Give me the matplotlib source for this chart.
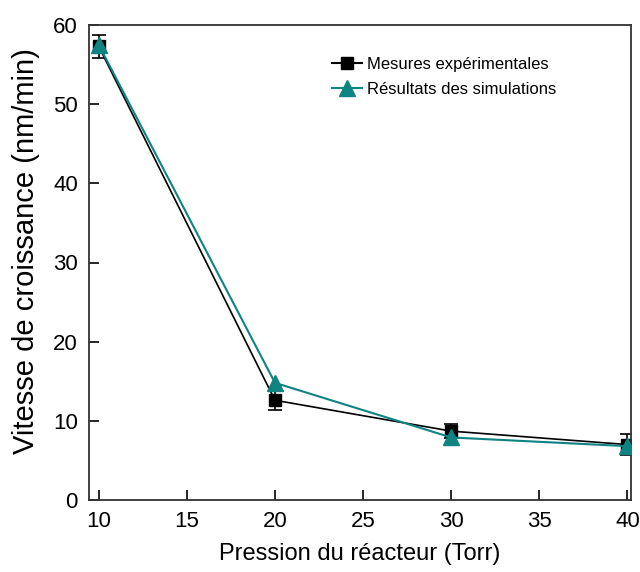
import matplotlib.pyplot as plt
from matplotlib.lines import Line2D
import numpy as np

plt.rcParams['font.family'] = ['Liberation Sans', 'DejaVu Sans']

# données
pression = [10, 20, 30, 40]
vitesse_exp = [57.3, 12.6, 8.7, 7.0]
erreur_exp = [1.5, 1.2, 0.9, 1.3]
vitesse_sim = [57.5, 14.8, 7.9, 6.8]

teal = '#0f8282'

fig = plt.figure(figsize=(6.4, 5.72), dpi=100)
ax = fig.add_axes([89/640, 1 - 500/572, (631-89)/640, (500-25)/572])

ax.errorbar(pression, vitesse_exp, yerr=erreur_exp, color='black', lw=1.2,
            marker='s', ms=8, capsize=5, capthick=1.2, elinewidth=1.2, zorder=2)
ax.plot(pression, vitesse_sim, color=teal, lw=1.5, marker='^', ms=11, zorder=3)

ax.set_xlim(9.45, 40.2)
ax.set_ylim(0, 60)
ax.set_xticks([10, 15, 20, 25, 30, 35, 40])
ax.set_yticks([0, 10, 20, 30, 40, 50, 60])
ax.tick_params(direction='in', length=7, width=1.2, labelsize=16, pad=8)
for s in ax.spines.values():
    s.set_linewidth(1.3)
    s.set_color('#333333')

ax.set_xlabel('Pression du réacteur (Torr)', fontsize=17, labelpad=8)
ax.set_ylabel('Vitesse de croissance (nm/min)', fontsize=21)
ax.yaxis.set_label_coords(-0.09, 0.525)

h_exp = Line2D([], [], color='black', lw=1.5, marker='s', ms=8)
h_sim = Line2D([], [], color=teal, lw=1.5, marker='^', ms=11)
ax.legend([h_exp, h_sim], ['Mesures expérimentales', 'Résultats des simulations'],
          loc='upper left', bbox_to_anchor=(0.42, 0.965), frameon=False,
          fontsize=12, handlelength=1.8, handletextpad=0.3, labelspacing=0.6)

fig.savefig('out.png', dpi=100)
